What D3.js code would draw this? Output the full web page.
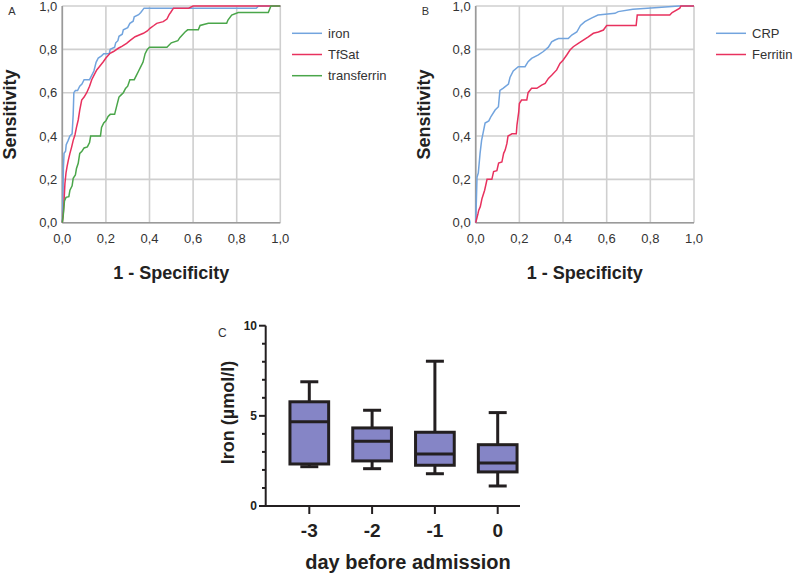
<!DOCTYPE html>
<html>
<head>
<meta charset="utf-8">
<script src="https://cdn.jsdelivr.net/npm/d3@7"></script>
<style>
  body { margin: 0; background: #fff; }
  svg { display: block; font-family: "Liberation Sans", Arial, sans-serif; }
</style>
</head>
<body>
<svg id="fig" width="800" height="575"></svg>
<script>
// --- data ---
const rocTicks = [0, 0.2, 0.4, 0.6, 0.8, 1.0];
const rocTickLabels = ["0,0", "0,2", "0,4", "0,6", "0,8", "1,0"];

// panel A : [1 - specificity, sensitivity]
const ironRoc = [[0,0],[0.003,0.12],[0.005,0.25],[0.008,0.32],[0.015,0.33],[0.018,0.36],[0.027,0.38],[0.035,0.4],[0.045,0.41],[0.05,0.5],[0.053,0.6],[0.06,0.61],[0.07,0.61],[0.08,0.63],[0.09,0.64],[0.1,0.66],[0.125,0.66],[0.135,0.68],[0.145,0.7],[0.155,0.74],[0.165,0.76],[0.18,0.77],[0.19,0.78],[0.215,0.78],[0.22,0.8],[0.24,0.81],[0.245,0.83],[0.255,0.84],[0.26,0.86],[0.275,0.87],[0.28,0.89],[0.3,0.9],[0.31,0.92],[0.325,0.93],[0.33,0.95],[0.35,0.96],[0.36,0.97],[0.375,0.99],[0.89,0.99],[0.9,1],[1,1]];
const tfsatRoc = [[0,0],[0.005,0.05],[0.008,0.1],[0.012,0.18],[0.017,0.23],[0.022,0.26],[0.028,0.29],[0.035,0.32],[0.043,0.35],[0.05,0.38],[0.058,0.405],[0.065,0.44],[0.073,0.474],[0.08,0.52],[0.089,0.566],[0.1,0.58],[0.112,0.6],[0.125,0.63],[0.135,0.66],[0.145,0.68],[0.158,0.705],[0.17,0.72],[0.188,0.743],[0.2,0.76],[0.219,0.782],[0.235,0.79],[0.257,0.805],[0.275,0.815],[0.295,0.828],[0.31,0.84],[0.334,0.858],[0.35,0.865],[0.372,0.874],[0.39,0.885],[0.402,0.897],[0.42,0.91],[0.433,0.92],[0.463,0.928],[0.48,0.94],[0.49,0.96],[0.497,0.97],[0.51,0.99],[0.58,0.99],[0.6,1],[1,1]];
const transferrinRoc = [[0,0],[0.004,0.03],[0.01,0.1],[0.017,0.117],[0.03,0.12],[0.035,0.15],[0.045,0.17],[0.05,0.205],[0.06,0.22],[0.065,0.25],[0.073,0.274],[0.08,0.32],[0.09,0.33],[0.1,0.345],[0.115,0.35],[0.125,0.37],[0.13,0.4],[0.175,0.4],[0.18,0.44],[0.19,0.46],[0.2,0.47],[0.21,0.49],[0.22,0.5],[0.24,0.5],[0.25,0.54],[0.26,0.58],[0.27,0.59],[0.28,0.6],[0.29,0.62],[0.3,0.63],[0.31,0.66],[0.33,0.66],[0.34,0.68],[0.35,0.7],[0.36,0.72],[0.37,0.74],[0.38,0.78],[0.39,0.8],[0.4,0.81],[0.48,0.81],[0.5,0.83],[0.53,0.84],[0.54,0.855],[0.563,0.88],[0.575,0.89],[0.624,0.89],[0.632,0.91],[0.67,0.92],[0.754,0.92],[0.76,0.935],[0.777,0.958],[0.807,0.97],[0.945,0.97],[0.957,1],[1,1]];

// panel B
const crpRoc = [[0,0],[0.003,0.1],[0.006,0.21],[0.012,0.23],[0.02,0.32],[0.027,0.38],[0.033,0.41],[0.043,0.46],[0.06,0.47],[0.07,0.49],[0.089,0.52],[0.104,0.535],[0.111,0.61],[0.125,0.62],[0.15,0.64],[0.157,0.67],[0.172,0.7],[0.195,0.72],[0.226,0.72],[0.24,0.743],[0.256,0.758],[0.287,0.774],[0.31,0.79],[0.333,0.81],[0.348,0.835],[0.363,0.843],[0.379,0.85],[0.424,0.85],[0.44,0.866],[0.463,0.88],[0.48,0.91],[0.5,0.928],[0.53,0.944],[0.56,0.958],[0.638,0.966],[0.653,0.974],[0.72,0.985],[0.836,0.993],[0.93,1],[1,1]];
const ferritinRoc = [[0,0],[0.01,0.04],[0.014,0.058],[0.021,0.074],[0.029,0.112],[0.041,0.15],[0.052,0.2],[0.074,0.2],[0.082,0.236],[0.097,0.24],[0.105,0.275],[0.12,0.28],[0.128,0.32],[0.135,0.335],[0.143,0.366],[0.148,0.4],[0.166,0.41],[0.186,0.41],[0.189,0.45],[0.197,0.51],[0.2,0.55],[0.21,0.566],[0.234,0.566],[0.24,0.6],[0.256,0.62],[0.28,0.62],[0.302,0.635],[0.318,0.643],[0.333,0.666],[0.348,0.68],[0.371,0.705],[0.386,0.735],[0.4,0.75],[0.417,0.774],[0.432,0.797],[0.447,0.812],[0.47,0.828],[0.493,0.843],[0.516,0.858],[0.539,0.874],[0.562,0.88],[0.585,0.889],[0.6,0.91],[0.735,0.91],[0.74,0.958],[0.889,0.958],[0.9,0.97],[0.935,0.99],[0.94,1],[1,1]];

const seriesA = ["iron", "TfSat", "transferrin"];
const seriesB = ["CRP", "Ferritin"];

// panel C : box plot of iron per day
const days = ["-3", "-2", "-1", "0"];
const whiskerLow  = [2.18, 2.07, 1.79, 1.11];
const q1          = [2.33, 2.50, 2.26, 1.89];
const median      = [4.67, 3.59, 2.88, 2.38];
const q3          = [5.78, 4.33, 4.09, 3.40];
const whiskerHigh = [6.89, 5.31, 8.03, 5.18];
const ironTicks = [0, 5, 10];

// --- styles ---
const blue = "#72a4de", red = "#e8315e", green = "#4aa64a";
const gridCol = "#cfcfcf";
const ink = "#231f20";

const svg = d3.select("#fig");
const yRoc = d3.scaleLinear().domain([0, 1]).range([222.7, 6]);

function drawRoc(x0, x1, curves, colors, names, panelLabel, legendX) {
  const x = d3.scaleLinear().domain([0, 1]).range([x0, x1]);
  const g = svg.append("g");

  // grid
  g.selectAll(".gx").data(rocTicks).enter().append("line")
    .attr("x1", d => x(d)).attr("x2", d => x(d))
    .attr("y1", yRoc(0)).attr("y2", yRoc(1))
    .attr("stroke", gridCol).attr("stroke-width", 1.6);
  g.selectAll(".gy").data(rocTicks).enter().append("line")
    .attr("x1", x(0)).attr("x2", x(1))
    .attr("y1", d => yRoc(d)).attr("y2", d => yRoc(d))
    .attr("stroke", gridCol).attr("stroke-width", 1.6);
  // axis lines
  g.append("line").attr("x1", x(0)).attr("x2", x(0)).attr("y1", yRoc(0)).attr("y2", yRoc(1))
    .attr("stroke", "#9a9a9a").attr("stroke-width", 1.6);
  g.append("line").attr("x1", x(0)).attr("x2", x(1)).attr("y1", yRoc(0)).attr("y2", yRoc(0))
    .attr("stroke", "#9a9a9a").attr("stroke-width", 1.6);

  // tick labels
  g.selectAll(".ty").data(rocTicks).enter().append("text")
    .attr("x", x(0) - 5).attr("y", d => yRoc(d) + 4.5)
    .attr("text-anchor", "end").attr("font-size", 13).attr("fill", "#333")
    .text((d, i) => rocTickLabels[i]);
  g.selectAll(".tx").data(rocTicks).enter().append("text")
    .attr("x", d => x(d)).attr("y", 243)
    .attr("text-anchor", "middle").attr("font-size", 13).attr("fill", "#333")
    .text((d, i) => rocTickLabels[i]);

  // curves
  const line = d3.line().x(d => x(d[0])).y(d => yRoc(d[1]));
  curves.forEach((c, i) => {
    g.append("path").attr("d", line(c)).attr("fill", "none")
      .attr("stroke", colors[i]).attr("stroke-width", 1.5);
  });

  // titles
  g.append("text").attr("x", (x0 + x1) / 2).attr("y", 279)
    .attr("text-anchor", "middle").attr("font-size", 18).attr("font-weight", "bold")
    .attr("fill", "#222").text("1 - Specificity");
  g.append("text").attr("transform", `translate(${x0 - 46},114.5) rotate(-90)`)
    .attr("text-anchor", "middle").attr("font-size", 18).attr("font-weight", "bold")
    .attr("fill", "#222").text("Sensitivity");
  g.append("text").attr("x", x0 - 54).attr("y", 15).attr("font-size", 11)
    .attr("fill", "#333").text(panelLabel);

  // legend
  names.forEach((n, i) => {
    const ly = 33.3 + i * 21.2;
    g.append("line").attr("x1", legendX).attr("x2", legendX + 30)
      .attr("y1", ly).attr("y2", ly).attr("stroke", colors[i]).attr("stroke-width", 1.5);
    g.append("text").attr("x", legendX + 36).attr("y", ly + 4.5)
      .attr("font-size", 13).attr("fill", "#333").text(n);
  });
}

drawRoc(62.3, 280.3, [ironRoc, tfsatRoc, transferrinRoc], [blue, red, green], seriesA, "A", 292);
drawRoc(475.7, 694, [crpRoc, ferritinRoc], [blue, red], seriesB, "B", 716);

// --- panel C ---
const yC = d3.scaleLinear().domain([0, 10]).range([506, 325.7]);
const xC = d3.scalePoint().domain(days).range([309.3, 497.7]);
const gc = svg.append("g");
const boxW = 38.7, capW = 18;

// y axis with minor ticks
gc.append("line").attr("x1", 265.7).attr("x2", 265.7).attr("y1", yC(0)).attr("y2", yC(10))
  .attr("stroke", ink).attr("stroke-width", 2);
gc.selectAll(".minor").data(d3.range(0, 11)).enter().append("line")
  .attr("x1", d => ironTicks.includes(d) ? 259 : 262).attr("x2", 265.7)
  .attr("y1", d => yC(d)).attr("y2", d => yC(d))
  .attr("stroke", ink).attr("stroke-width", 2);
gc.selectAll(".ylab").data(ironTicks).enter().append("text")
  .attr("x", 257).attr("y", d => yC(d) + 4.3).attr("text-anchor", "end")
  .attr("font-size", 12).attr("font-weight", "bold").attr("fill", ink).text(d => d);

// x axis
gc.append("line").attr("x1", 264.7).attr("x2", 520).attr("y1", yC(0)).attr("y2", yC(0))
  .attr("stroke", ink).attr("stroke-width", 2);
gc.selectAll(".xt").data(days).enter().append("line")
  .attr("x1", d => xC(d)).attr("x2", d => xC(d))
  .attr("y1", yC(0)).attr("y2", yC(0) + 8)
  .attr("stroke", ink).attr("stroke-width", 2);
gc.selectAll(".xlab").data(days).enter().append("text")
  .attr("x", d => xC(d)).attr("y", 537).attr("text-anchor", "middle")
  .attr("font-size", 19).attr("font-weight", "bold").attr("fill", ink).text(d => d);

// boxes
days.forEach((d, i) => {
  const cx = xC(d);
  gc.append("line").attr("x1", cx).attr("x2", cx).attr("y1", yC(whiskerHigh[i])).attr("y2", yC(whiskerLow[i]))
    .attr("stroke", ink).attr("stroke-width", 3);
  [whiskerHigh[i], whiskerLow[i]].forEach(v => {
    gc.append("line").attr("x1", cx - capW / 2).attr("x2", cx + capW / 2)
      .attr("y1", yC(v)).attr("y2", yC(v)).attr("stroke", ink).attr("stroke-width", 3);
  });
  gc.append("rect").attr("x", cx - boxW / 2).attr("y", yC(q3[i]))
    .attr("width", boxW).attr("height", yC(q1[i]) - yC(q3[i]))
    .attr("fill", "#8585c6").attr("stroke", ink).attr("stroke-width", 3);
  gc.append("line").attr("x1", cx - boxW / 2).attr("x2", cx + boxW / 2)
    .attr("y1", yC(median[i])).attr("y2", yC(median[i])).attr("stroke", ink).attr("stroke-width", 3);
});

gc.append("text").attr("transform", "translate(234,412.5) rotate(-90)")
  .attr("text-anchor", "middle").attr("font-size", 18).attr("font-weight", "bold")
  .attr("fill", ink).text("Iron (µmol/l)");
gc.append("text").attr("x", 408).attr("y", 569).attr("text-anchor", "middle")
  .attr("font-size", 20).attr("font-weight", "bold").attr("fill", ink).text("day before admission");
gc.append("text").attr("x", 218).attr("y", 337).attr("font-size", 12)
  .attr("fill", "#333").text("C");
</script>
</body>
</html>
